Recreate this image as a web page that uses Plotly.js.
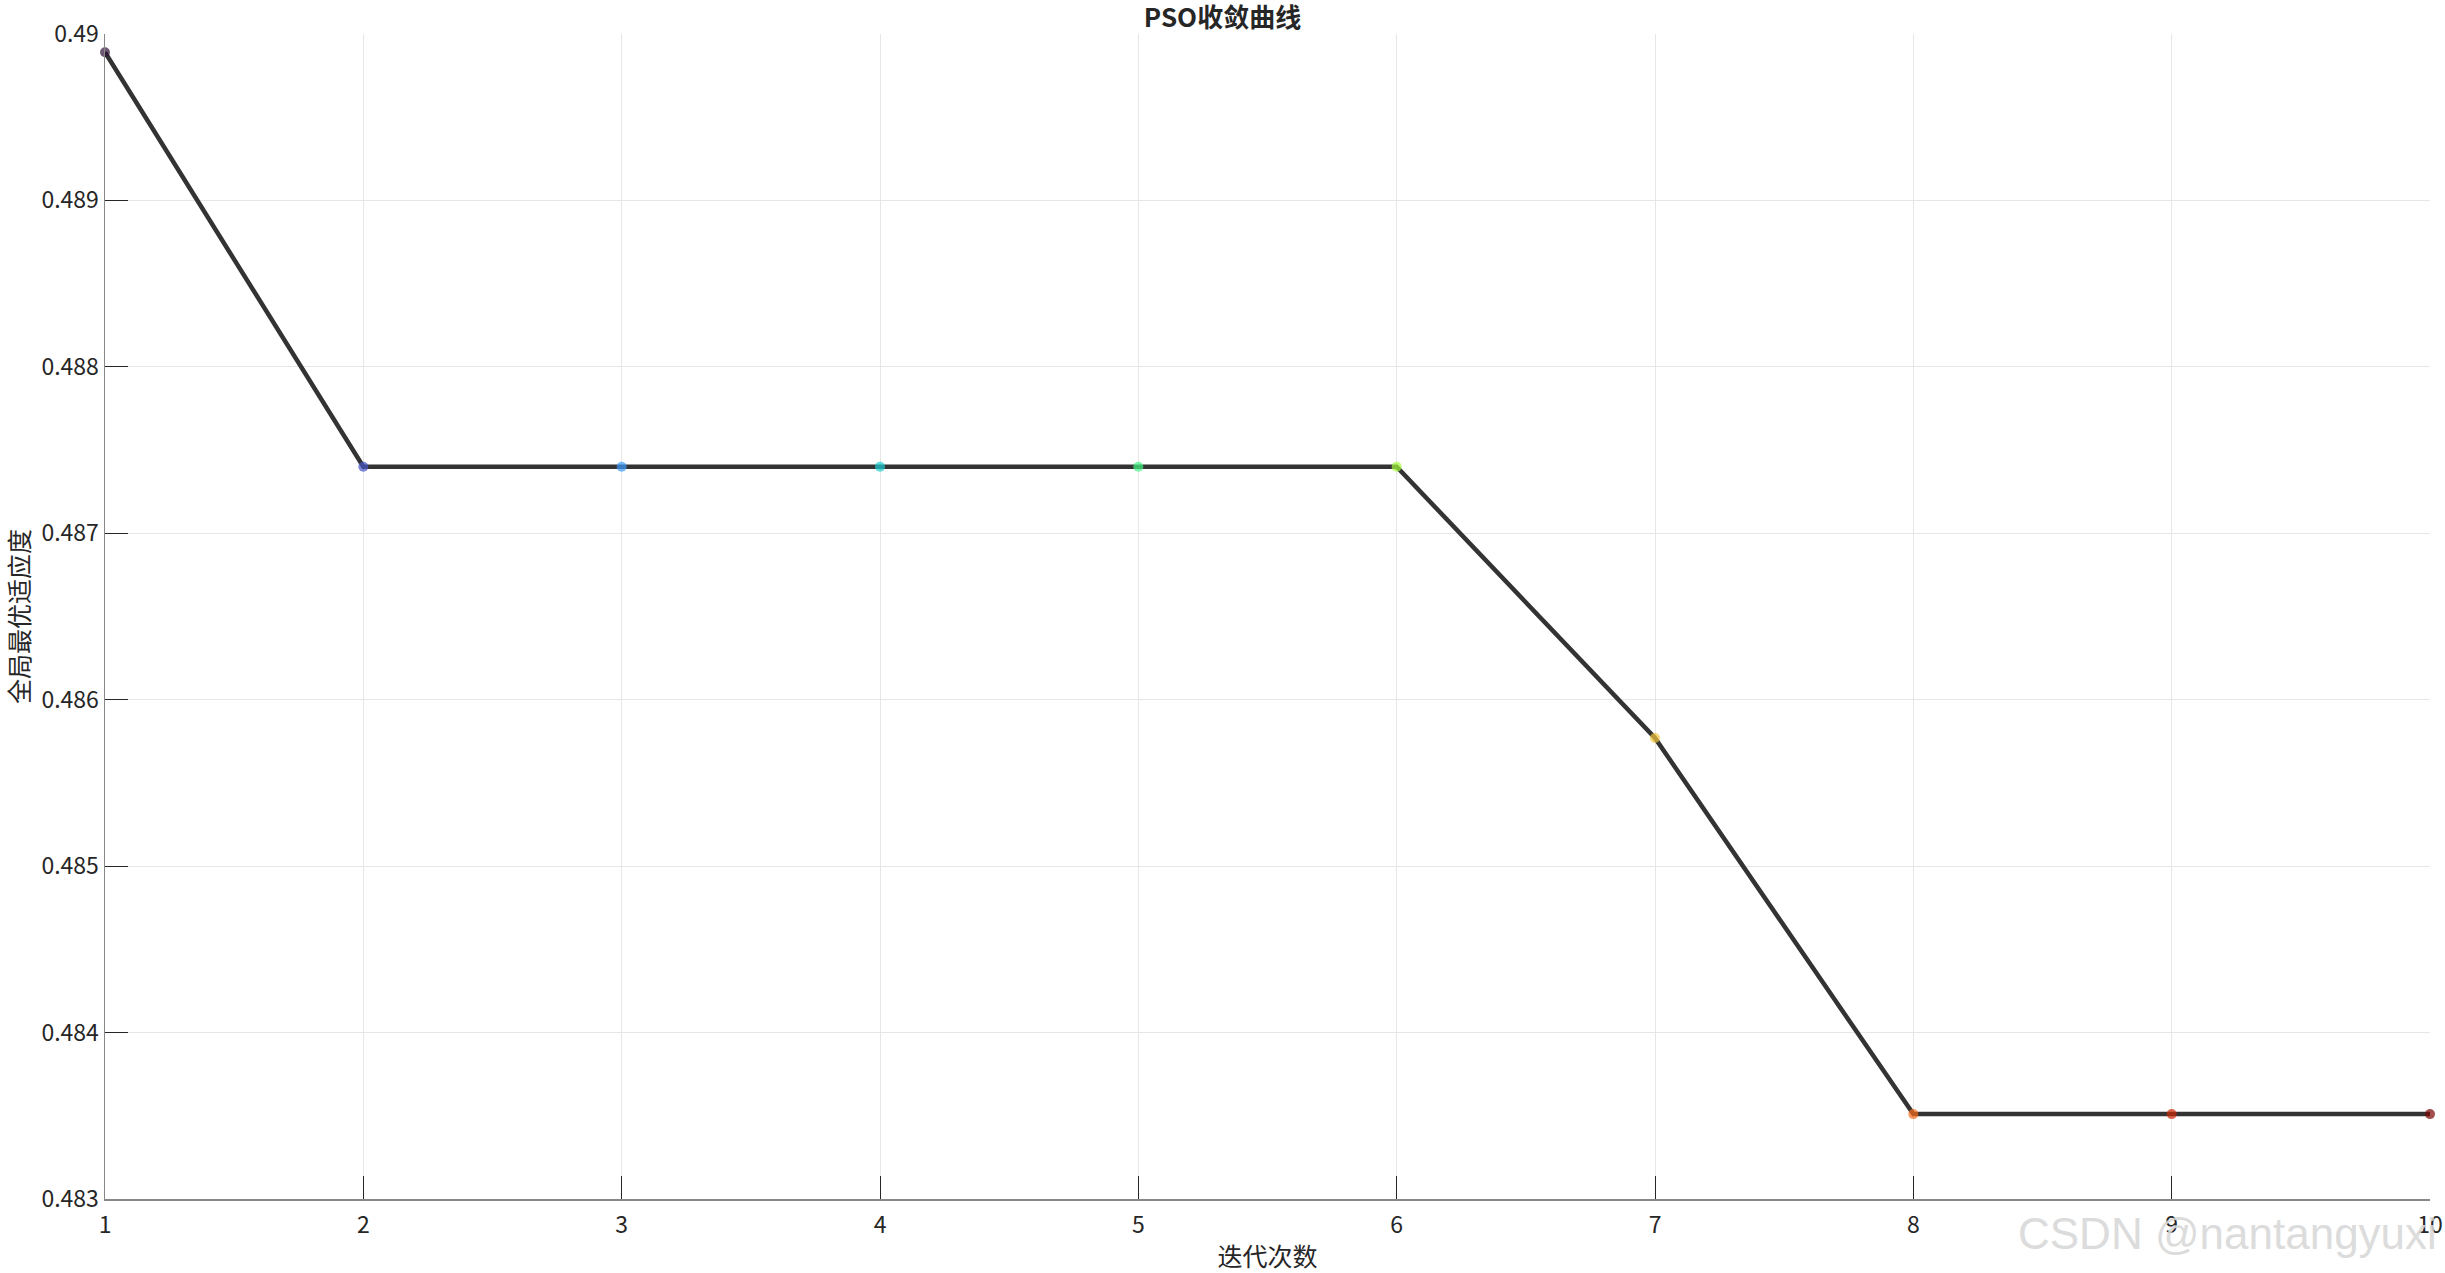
<!DOCTYPE html>
<html>
<head>
<meta charset="utf-8">
<script src="https://cdn.plot.ly/plotly-3.0.1.min.js"></script>
<style>
html,body{margin:0;padding:0;background:#fff;}
#chart{width:2445px;height:1273px;}
</style>
</head>
<body>
<div id="chart"></div>
<script>
const iterations = [1, 2, 3, 4, 5, 6, 7, 8, 9, 10];
const bestFitness = [0.48989, 0.48740, 0.48740, 0.48740, 0.48740, 0.48740, 0.48577, 0.48351, 0.48351, 0.48351];
const pointColors = ['#30123b', '#4454c4', '#3e9bfe', '#1bcfd4', '#46f884', '#a4fc3c', '#f3c63a', '#f66b19', '#ca2a04', '#7a0403'];
const xTicks = [1, 2, 3, 4, 5, 6, 7, 8, 9, 10];
const yTicks = [0.483, 0.484, 0.485, 0.486, 0.487, 0.488, 0.489, 0.49];
const yTickText = ['0.483', '0.484', '0.485', '0.486', '0.487', '0.488', '0.489', '0.49'];

const font = '"Noto Sans CJK SC", "Noto Sans", "Open Sans", sans-serif';

const traces = [
  {
    x: iterations, y: bestFitness, type: 'scatter', mode: 'lines',
    line: {color: '#333333', width: 4.5}, hoverinfo: 'skip', showlegend: false
  },
  {
    x: iterations, y: bestFitness, type: 'scatter', mode: 'markers',
    marker: {color: pointColors, size: 10, opacity: 0.7, line: {width: 0}},
    showlegend: false, cliponaxis: false
  }
];

const layout = {
  width: 2445, height: 1273,
  paper_bgcolor: '#ffffff', plot_bgcolor: '#ffffff',
  margin: {l: 105, r: 15, t: 34, b: 74},
  font: {family: font, color: '#262626', size: 23},
  title: {
    text: '<b>PSO收敛曲线</b>',
    font: {family: font, size: 26, color: '#262626'},
    x: 0.5, xanchor: 'center', y: 0.986, yanchor: 'middle'
  },
  xaxis: {
    range: [1, 10], tickvals: xTicks, ticktext: xTicks.map(String),
    showgrid: true, gridcolor: '#e6e6e6', gridwidth: 1,
    zeroline: false, showline: true, linecolor: '#888888', linewidth: 1.5,
    ticks: 'inside', ticklen: 23, tickwidth: 1, tickcolor: '#262626',
    ticklabelstandoff: 5,
    tickfont: {family: font, size: 23, color: '#262626'},
    title: {text: '迭代次数', font: {family: font, size: 25, color: '#262626'}, standoff: 9},
    fixedrange: true
  },
  yaxis: {
    range: [0.483, 0.49], tickvals: yTicks, ticktext: yTickText,
    showgrid: true, gridcolor: '#e6e6e6', gridwidth: 1,
    zeroline: false, showline: true, linecolor: '#888888', linewidth: 1.5,
    ticks: 'inside', ticklen: 23, tickwidth: 1, tickcolor: '#262626',
    tickfont: {family: font, size: 23, color: '#262626'},
    title: {text: '全局最优适应度', font: {family: font, size: 25, color: '#262626'}, standoff: 8},
    fixedrange: true
  },
  annotations: [
    {
      text: 'CSDN @nantangyuxi', xref: 'paper', yref: 'paper',
      x: 1.004, y: -0.03, xanchor: 'right', yanchor: 'middle',
      showarrow: false,
      font: {family: '"Liberation Sans", Arial, sans-serif', size: 44, color: 'rgba(215,215,215,0.9)'}
    }
  ]
};

Plotly.newPlot('chart', traces, layout, {displayModeBar: false, staticPlot: true});
</script>
</body>
</html>
